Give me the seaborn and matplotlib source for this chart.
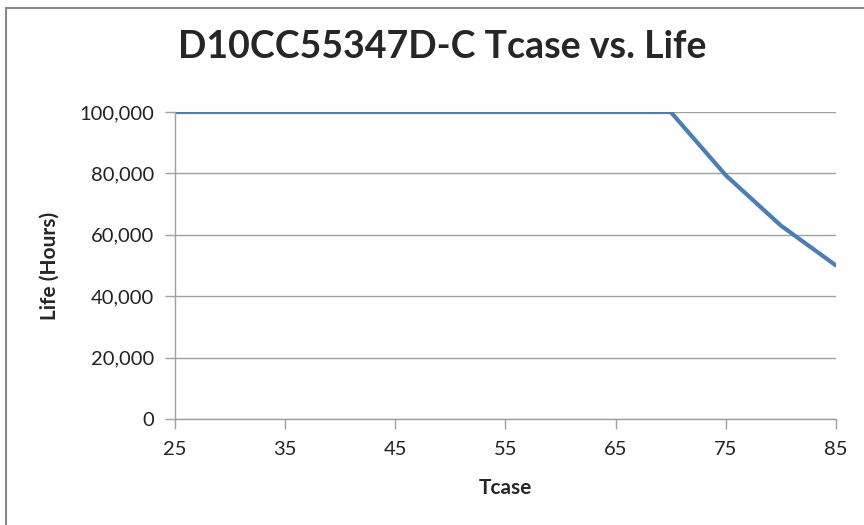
import matplotlib
matplotlib.use('Agg')
import matplotlib.pyplot as plt
import matplotlib.ticker as mticker
import seaborn as sns
import pandas as pd

# Tcase vs life data
tcase = [25, 70, 75, 80, 85]
life = [100000, 100000, 79370, 63000, 50000]
x_ticks = [25, 35, 45, 55, 65, 75, 85]
y_ticks = [0, 20000, 40000, 60000, 80000, 100000]

df = pd.DataFrame({'Tcase': tcase, 'Life': life})

sns.set_style('white')
plt.rcParams['font.family'] = ['Lato', 'DejaVu Sans']

fig = plt.figure(figsize=(8.64, 5.25), dpi=100)
ax = fig.add_axes([175 / 864, 1 - 419 / 525, (836 - 175) / 864, (419 - 112) / 525])

sns.lineplot(data=df, x='Tcase', y='Life', ax=ax, color='#4a7ebb', linewidth=3)

ax.set_xlim(25, 85)
ax.set_ylim(0, 100000)
ax.set_xticks(x_ticks)
ax.set_yticks(y_ticks)
ax.yaxis.set_major_formatter(mticker.StrMethodFormatter('{x:,.0f}'))
ax.tick_params(axis='both', labelsize=14.5, colors='#222222', length=7, width=1,
               color='#a0a0a0', direction='out', pad=8, bottom=True, left=True)
ax.tick_params(axis='x', pad=9)
ax.yaxis.grid(True, color='#a0a0a0', linewidth=1)
ax.set_axisbelow(True)
for side in ['top', 'right']:
    ax.spines[side].set_visible(False)
for side in ['left', 'bottom']:
    ax.spines[side].set_color('#a0a0a0')
    ax.spines[side].set_linewidth(1)

ax.set_xlabel('Tcase', fontsize=15, fontweight='bold', labelpad=14)
ax.set_ylabel('Life (Hours)', fontsize=15, fontweight='bold', labelpad=14)
fig.suptitle('D10CC55347D-C Tcase vs. Life', x=442 / 864, y=1 - 30 / 525,
             fontsize=27, fontweight='bold', va='top')

# outer chart border (left / top only visible in the crop)
border = plt.Rectangle((6 / 864, -0.1), 1.2, 1 - 8 / 525 + 0.1, transform=fig.transFigure,
                       fill=False, edgecolor='#888888', linewidth=1.5)
fig.patches.append(border)

fig.savefig('out.png', dpi=100)
